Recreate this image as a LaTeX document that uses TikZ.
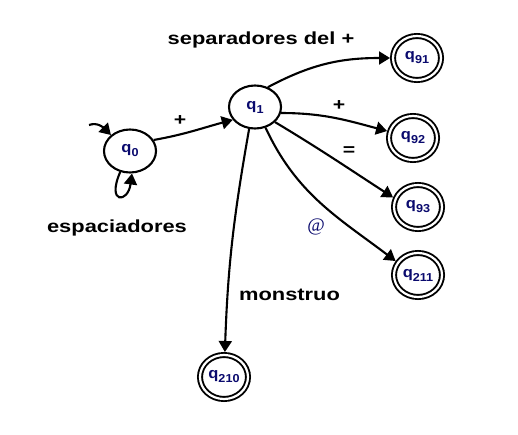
\documentclass[tikz,border=0pt]{standalone}
\usepackage{fontspec}
\setmainfont{Liberation Sans}
\newfontfamily\widefont{Liberation Sans}[FakeStretch=1.25]
\newfontfamily\qfont{Liberation Sans}[FakeStretch=1.1]
\newfontfamily\atfont{Liberation Serif}
\usetikzlibrary{arrows.meta,shapes.geometric}
\definecolor{navy}{RGB}{10,10,110}
\newcommand\qlab[1]{\textcolor{navy}{\qfont\bfseries\fontsize{15}{15}\selectfont q\raisebox{-4pt}{\fontsize{11.5}{11}\selectfont #1}}}
\begin{document}
\begin{tikzpicture}[x=1pt,y=1pt,
  st/.style={draw, ellipse, line width=2.1pt, minimum width=52pt, minimum height=43pt, inner sep=0pt},
  acc/.style={draw, ellipse, line width=1.9pt, double, double distance=2.2pt, minimum width=48pt, minimum height=44pt, inner sep=0pt, outer sep=3pt},
  arr/.style={line width=2.1pt, -{Triangle[length=11pt,width=13pt]}},
  lbl/.style={font=\widefont\bfseries\fontsize{17.5}{18}\selectfont, inner sep=0pt, anchor=base},
  sm/.style={font=\widefont\bfseries\fontsize{17}{17}\selectfont, inner sep=0pt}
]
\fill[white] (0,0) rectangle (518,434);
\useasboundingbox (0,0) rectangle (518,434);

\node[st] (q0) at (130,283) {\qlab{0}};
\node[st] (q1) at (255,327) {\qlab{1}};
\node[acc] (q91) at (417,376) {\qlab{91}};
\node[acc] (q92) at (413,296) {\qlab{92}};
\node[acc] (q93) at (418,227) {\qlab{93}};
\node[acc] (q211) at (418,159) {\qlab{211}};
\node[acc] (q210) at (224,57) {\qlab{210}};

\coordinate (init) at (89,309);

\draw[arr] (init) to[out=20,in=135] (q0.140);
\draw[arr] (q0.245) .. controls +(-14,-32) and +(-4,-30) .. (q0.275);
\draw[arr] (q0.25) to[out=10,in=195] (q1.210);
\draw[arr] (q1.57) to[out=28,in=180] (q91);
\draw[arr] (q1.-13) to[out=0,in=165] (q92.165);
\draw[arr] (q1.-37) to[out=-31,in=147] (q93.159);
\draw[arr] (q1.-63) to[out=-65,in=143] (q211.148);
\draw[arr] (q1.-105) to[out=-100,in=88] (q210);

\node[lbl] (tsep) at (261,389) {separadores del +};
\node[lbl] (tesp) at (117,202) {espaciadores};
\node[lbl] (tmon) at (289.5,134) {monstruo};
\node[sm] (tp1) at (180,313) {+};
\node[sm] (tp2) at (339,328) {+};
\node[sm] (teq) at (349,283) {=};
\node[font=\atfont\fontsize{19}{19}\selectfont, text=navy, inner sep=0pt] (tat) at (316,207) {@};
\end{tikzpicture}
\end{document}
